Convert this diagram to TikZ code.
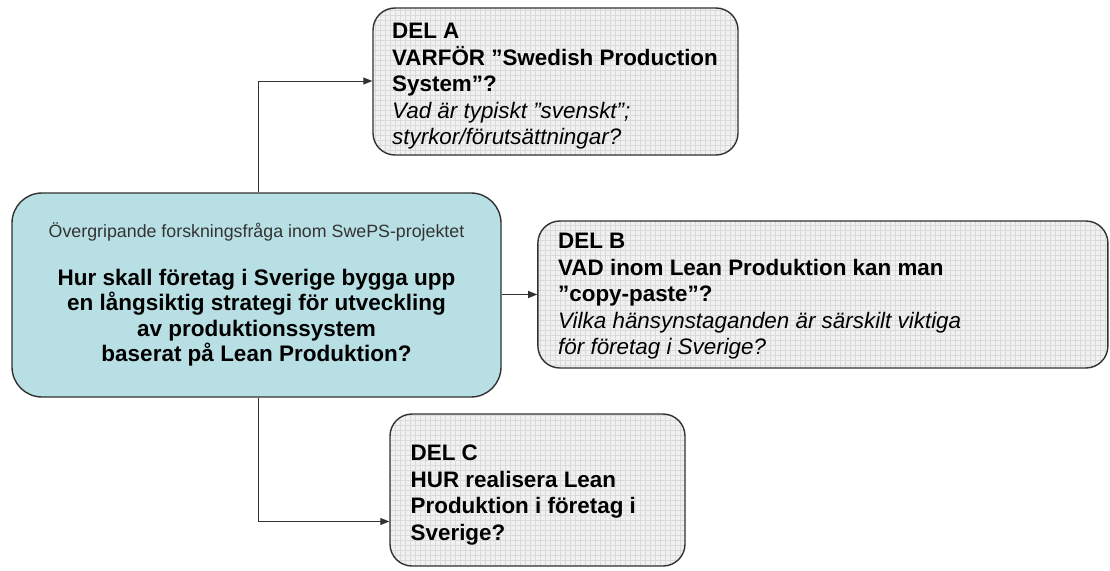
\documentclass[tikz,border=0pt]{standalone}
\usepackage{fontspec}
\setmainfont{Liberation Sans}
\usetikzlibrary{patterns,arrows.meta,calc}
\definecolor{tealfill}{RGB}{184,224,228}
\definecolor{greyfill}{RGB}{241,241,241}
\definecolor{gridline}{RGB}{218,218,218}
\definecolor{edgecol}{RGB}{50,50,50}
\pgfdeclarepatternformonly{finegrid}{\pgfqpoint{-1pt}{-1pt}}{\pgfqpoint{6pt}{6pt}}{\pgfqpoint{5pt}{5pt}}{%
  \pgfsetlinewidth{0.6pt}%
  \pgfpathmoveto{\pgfqpoint{0pt}{0pt}}\pgfpathlineto{\pgfqpoint{5.1pt}{0pt}}%
  \pgfpathmoveto{\pgfqpoint{0pt}{0pt}}\pgfpathlineto{\pgfqpoint{0pt}{5.1pt}}%
  \pgfusepath{stroke}}
\tikzset{
  mainbox/.style={draw=edgecol, line width=1.4pt, fill=tealfill, rounded corners=30pt, inner sep=0pt},
  delbox/.style={draw=edgecol, line width=1.4pt, rounded corners=22pt, inner sep=0pt,
     preaction={fill=greyfill}, pattern=finegrid, pattern color=gridline},
  deltext/.style={anchor=north west, align=left, inner sep=0pt, font=\fontsize{22.4}{26.5}\selectfont},
  conn/.style={draw=edgecol, line width=1pt, -{Triangle[length=9pt,width=7pt]}}
}
\begin{document}
\begin{tikzpicture}[x=1pt,y=-1pt]
\useasboundingbox (0,0) rectangle (1110,570);
\fill[white] (0,0) rectangle (1110,570);
% boxes
\node[mainbox, minimum width=489pt, minimum height=204pt] (M) at (256.5,295) {};
\node[delbox, minimum width=365pt, minimum height=147pt] (A) at (555.5,81.5) {};
\node[delbox, minimum width=570pt, minimum height=147pt] (B) at (822.9,294.5) {};
\node[delbox, minimum width=295pt, minimum height=152pt] (C) at (537.5,490) {};
% main text
\node[inner sep=0pt, anchor=base, font=\fontsize{17.8}{20}\selectfont, text=black!80] (Msub) at (256.5,237) {Övergripande forskningsfråga inom SwePS-projektet};
\node[inner sep=0pt, anchor=north, align=center, font=\fontsize{22.5}{25.5}\selectfont\bfseries] (Mmain) at (256.5,268.5) {Hur skall företag i Sverige bygga upp\\en långsiktig strategi för utveckling\\av produktionssystem\\baserat på Lean Produktion?};
% del texts
\node[deltext] (Atext) at (392,23) {\textbf{DEL A}\\\textbf{VARFÖR ”Swedish Production}\\\textbf{System”?}\\\textit{Vad är typiskt ”svenskt”;}\\\textit{styrkor/förutsättningar?}};
\node[deltext] (Btext) at (558,233) {\textbf{DEL B}\\\textbf{VAD inom Lean Produktion kan man}\\\textbf{”copy-paste”?}\\\textit{Vilka hänsynstaganden är särskilt viktiga}\\\textit{för företag i Sverige?}};
\node[deltext] (Ctext) at (410.5,445) {\textbf{DEL C}\\\textbf{HUR realisera Lean}\\\textbf{Produktion i företag i}\\\textbf{Sverige?}};
% connectors
\coordinate (ka) at (258,81);
\coordinate (kc) at (258,521.5);
\draw[conn] (M.north -| ka) -- (ka) -- (A.west |- ka);
\draw[conn] (M.east |- B.west) -- (B.west);
\draw[conn] (M.south -| kc) -- (kc) -- (C.west |- kc);
\end{tikzpicture}
\end{document}
